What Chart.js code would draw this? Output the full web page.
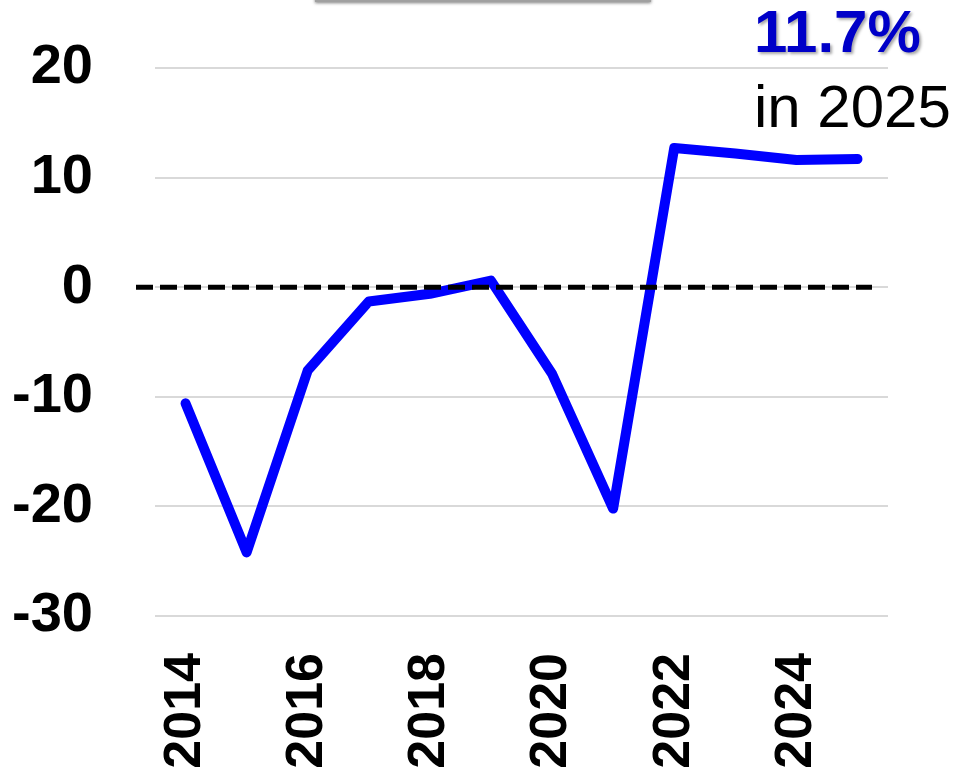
<!DOCTYPE html>
<html>
<head>
<meta charset="utf-8">
<script src="https://cdn.jsdelivr.net/npm/chart.js@4"></script>
<style>
  html, body { margin: 0; padding: 0; background: #fff; }
  #wrap { position: relative; width: 955px; height: 773px; }
  #topBox {
    position: absolute; left: 315px; top: -10px; width: 332px; height: 10px;
    border: 2px solid #a0a0a0; border-top: none; background: #fff;
    box-shadow: 0 1px 3px rgba(0,0,0,0.5);
  }
  .note { position: absolute; font-family: "Liberation Sans", Arial, sans-serif; white-space: nowrap; }
  #pct { left: 754px; top: -3px; font-size: 60px; font-weight: bold; color: #0000c8; text-shadow: 2px 2px 3px rgba(0,0,0,0.35); }
  #yr { left: 754px; top: 72px; font-size: 60px; color: #000; }
</style>
</head>
<body>
<div id="wrap">
  <canvas id="chart" width="955" height="773"></canvas>
  <div id="topBox"></div>
  <div class="note" id="pct">11.7%</div>
  <div class="note" id="yr">in 2025</div>
</div>
<script>
// year-on-year change, %
const years = ["2014","2015","2016","2017","2018","2019","2020","2021","2022","2023","2024","2025"];
const values = [-10.6, -24.2, -7.6, -1.3, -0.6, 0.6, -7.9, -20.2, 12.7, 12.2, 11.6, 11.7];
const yTicks = [-30, -20, -10, 0, 10, 20];

// dashed zero line, drawn a bit past the left edge of the plot
const zeroLine = {
  id: "zeroLine",
  afterDatasetsDraw(chart) {
    const c = chart.ctx;
    const y = chart.scales.y.getPixelForValue(0);
    c.save();
    c.strokeStyle = "#000";
    c.lineWidth = 5;
    c.setLineDash([17, 7]);
    c.beginPath();
    c.moveTo(chart.chartArea.left - 19, y);
    c.lineTo(chart.chartArea.right - 16, y);
    c.stroke();
    c.restore();
  }
};

new Chart(document.getElementById("chart"), {
  type: "line",
  data: {
    labels: years,
    datasets: [{
      data: values,
      borderColor: "#0000ff",
      borderWidth: 10,
      borderCapStyle: "round",
      borderJoinStyle: "round",
      pointRadius: 0,
      tension: 0,
      fill: false
    }]
  },
  options: {
    responsive: false,
    animation: false,
    layout: { padding: { top: 68, right: 67, left: 0, bottom: 0 } },
    plugins: { legend: { display: false }, tooltip: { enabled: false } },
    scales: {
      x: {
        offset: true,
        grid: { display: false, drawTicks: false },
        border: { display: false },
        afterFit: (s) => { s.height = 157; s.paddingLeft = 0; s.paddingRight = 0; },
        ticks: {
          autoSkip: false,
          minRotation: 90,
          maxRotation: 90,
          padding: 37,
          color: "#000",
          font: { family: "Liberation Sans", size: 52, weight: "bold" },
          callback: (v, i) => (i % 2 === 0 ? years[i] : "")
        }
      },
      y: {
        min: yTicks[0],
        max: yTicks[yTicks.length - 1],
        afterBuildTicks: (s) => { s.ticks = yTicks.map(v => ({ value: v })); },
        afterFit: (s) => { s.width = 155; s.paddingTop = 0; s.paddingBottom = 0; },
        grid: { color: "#d9d9d9", lineWidth: 2, drawTicks: false },
        border: { display: false },
        ticks: {
          padding: 62,
          color: "#000",
          font: { family: "Liberation Sans", size: 56, weight: "bold" }
        }
      }
    }
  },
  plugins: [zeroLine]
});
</script>
</body>
</html>
